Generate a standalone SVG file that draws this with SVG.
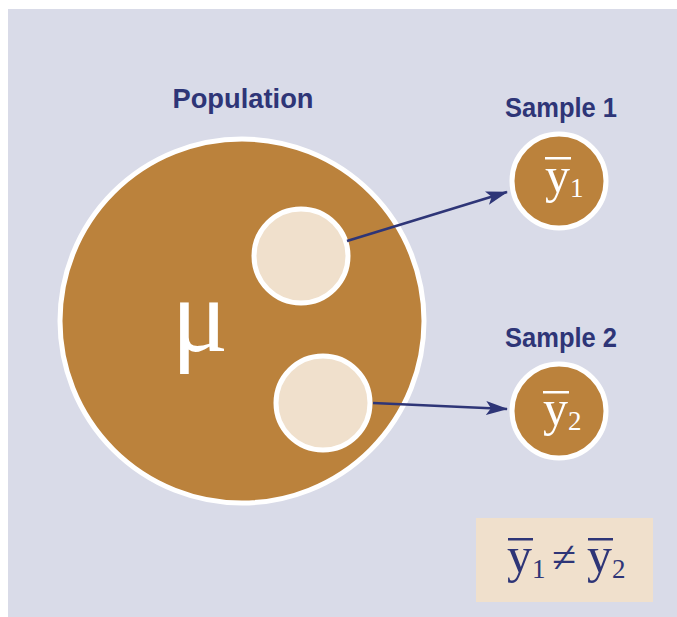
<svg xmlns="http://www.w3.org/2000/svg" width="677" height="617" viewBox="0 0 677 617">
<defs>
<style>
.bg{fill:#d9dbe8}
.brown{fill:#bb823c;stroke:#ffffff;stroke-width:5}
.light{fill:#f0e0cc;stroke:#ffffff;stroke-width:5}
.lbl{font-family:"Liberation Sans",Arial,sans-serif;font-weight:bold;fill:#2e3577;font-size:28px}
.math{font-family:"Liberation Serif","Times New Roman",serif}
.wm{fill:#ffffff}
.nm{fill:#2e3577}
.conn{stroke:#2e3577;stroke-width:2.6;fill:none}
</style>
<marker id="ah" viewBox="0 0 22 14" refX="21" refY="7" markerWidth="22" markerHeight="14" markerUnits="userSpaceOnUse" orient="auto">
<path d="M0,0 L22,7 L0,14 L5,7 Z" fill="#2e3577"/>
</marker>
</defs>
<rect class="bg" x="8" y="9" width="669" height="608"/>
<g id="population">
<text class="lbl" x="243" y="108" text-anchor="middle" textLength="141" lengthAdjust="spacingAndGlyphs">Population</text>
<circle class="brown" cx="242" cy="321" r="182"/>
<text class="math wm" x="200" y="351" text-anchor="middle" font-size="106">μ</text>
</g>
<g id="subsample1">
<circle class="light" cx="301" cy="256" r="47"/>
</g>
<g id="subsample2">
<circle class="light" cx="323" cy="403" r="47"/>
</g>
<g id="sample1">
<text class="lbl" x="561" y="117" text-anchor="middle" textLength="112" lengthAdjust="spacingAndGlyphs">Sample 1</text>
<circle class="brown" cx="559" cy="181" r="47"/>
<rect x="545" y="157" width="26" height="2.5" fill="#ffffff"/>
<text class="math wm" x="545" y="192" font-size="50">y</text>
<text class="math wm" x="570" y="197" font-size="27">1</text>
</g>
<g id="sample2">
<text class="lbl" x="561" y="347" text-anchor="middle" textLength="112" lengthAdjust="spacingAndGlyphs">Sample 2</text>
<circle class="brown" cx="559" cy="411" r="47"/>
<rect x="543" y="391" width="26" height="2.5" fill="#ffffff"/>
<text class="math wm" x="543" y="425" font-size="50">y</text>
<text class="math wm" x="568" y="430" font-size="27">2</text>
</g>
<g id="inequality">
<rect x="476" y="518" width="177" height="84" fill="#f0e0cc"/>
<rect x="508" y="538" width="25" height="2.5" fill="#2e3577"/>
<text class="math nm" x="507" y="572" font-size="50">y</text>
<text class="math nm" x="532" y="578" font-size="27">1</text>
<text class="math nm" x="564" y="572" font-size="44" text-anchor="middle">≠</text>
<rect x="588" y="538" width="25" height="2.5" fill="#2e3577"/>
<text class="math nm" x="587" y="572" font-size="50">y</text>
<text class="math nm" x="612" y="578" font-size="27">2</text>
</g>
<g id="connectors">
<line class="conn" x1="347" y1="241" x2="507" y2="192" marker-end="url(#ah)"/>
<line class="conn" x1="373" y1="403" x2="507" y2="409" marker-end="url(#ah)"/>
</g>
</svg>
